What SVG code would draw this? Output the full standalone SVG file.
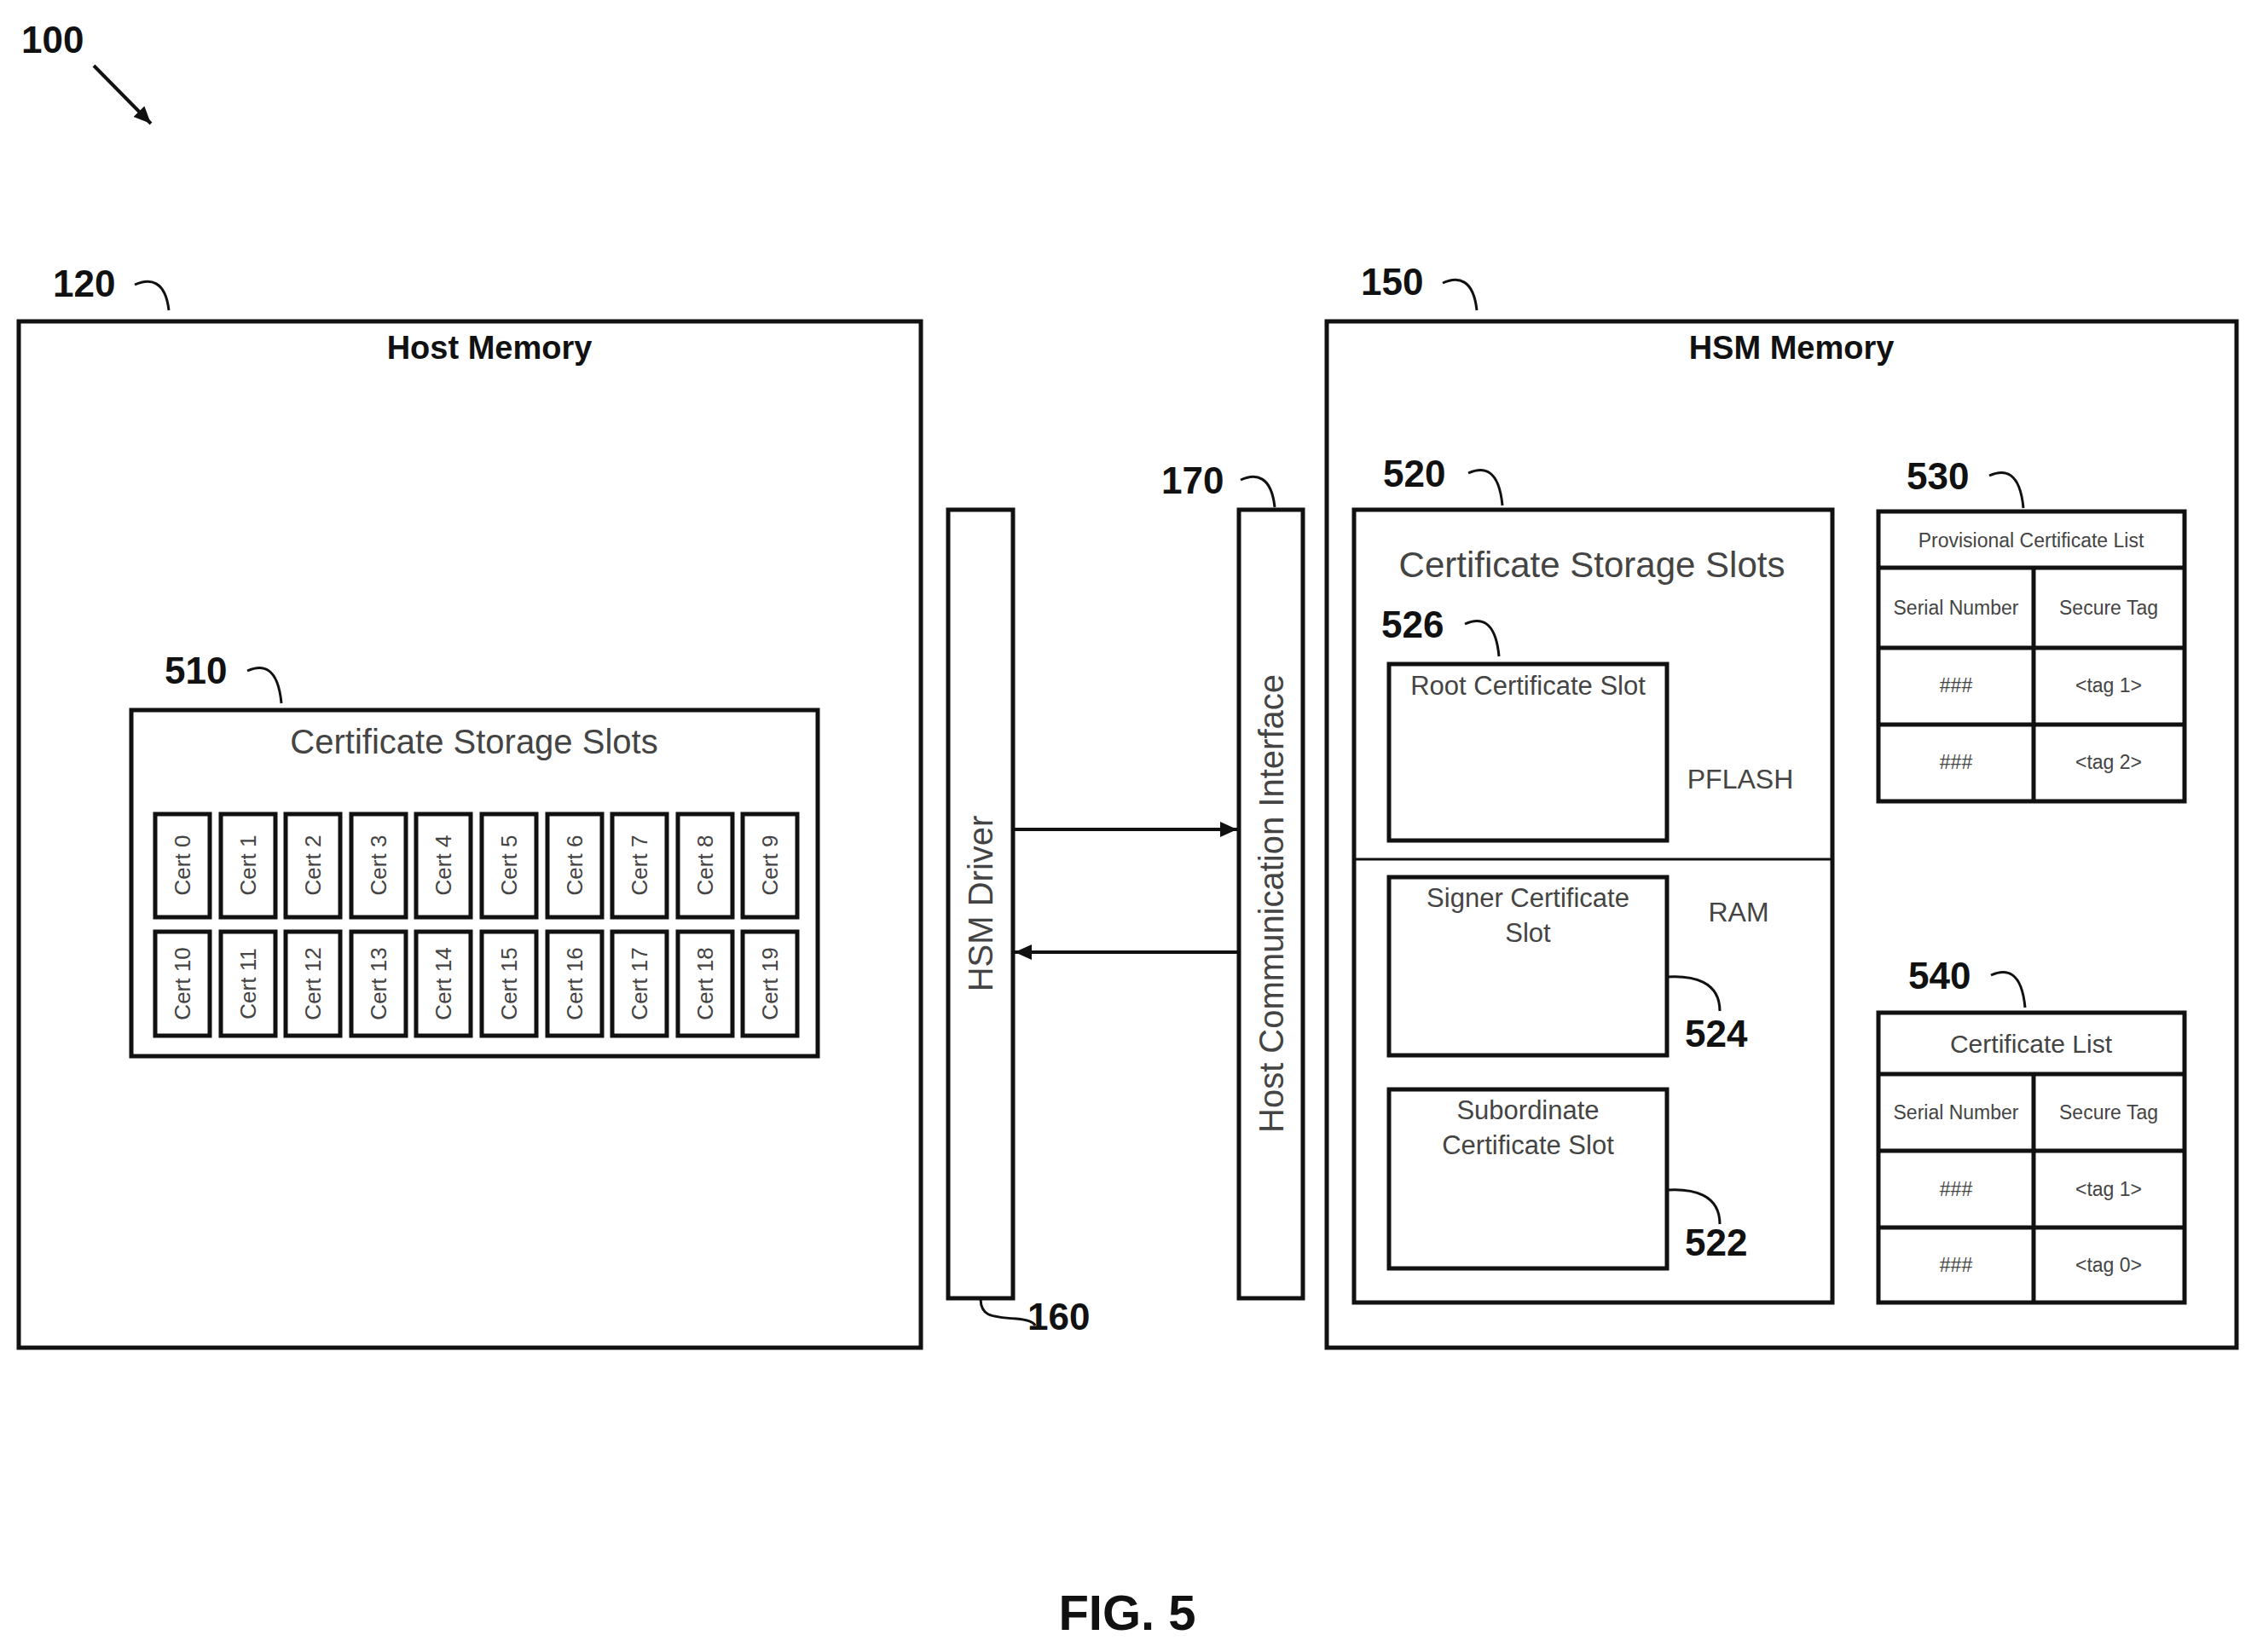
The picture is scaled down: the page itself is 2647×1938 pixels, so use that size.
<svg xmlns="http://www.w3.org/2000/svg" width="2647" height="1938" viewBox="0 0 2647 1938">
<style>
.box{fill:none;stroke:#111;stroke-width:5}
.thin{fill:none;stroke:#111;stroke-width:3}
.lbl{font-family:"Liberation Sans",Arial,sans-serif;font-weight:bold;font-size:44px;fill:#111}
.hd{font-family:"Liberation Sans",Arial,sans-serif;font-weight:bold;font-size:38px;fill:#111;text-anchor:middle}
.t{font-family:"Liberation Sans",Arial,sans-serif;fill:#444;text-anchor:middle}
.sq{fill:none;stroke:#111;stroke-width:3}
.con{fill:none;stroke:#111;stroke-width:4}
</style>
<defs>
<marker id="ah" markerWidth="10" markerHeight="10" refX="9" refY="5" orient="auto" markerUnits="userSpaceOnUse" viewBox="0 0 10 10">
<path d="M0,0 L10,5 L0,10 z" fill="#111"/></marker>
<marker id="ah2" markerWidth="22" markerHeight="22" refX="20" refY="11" orient="auto" markerUnits="userSpaceOnUse" viewBox="0 0 22 22">
<path d="M0,2 L20,11 L0,20 z" fill="#111"/></marker>
</defs>

<g id="n100"><text class="lbl" x="25" y="62">100</text></g>

<g id="n120">
<text class="lbl" x="62" y="348">120</text>
<path class="sq" d="M158 334 c18 -8 36 -5 40 30"/>
<rect class="box" x="22" y="377" width="1058" height="1204"/>
<text class="hd" x="574" y="421">Host Memory</text>
</g>

<g id="n510">
<text class="lbl" x="193" y="802">510</text>
<path class="sq" d="M290 787 c18 -8 36 -5 40 38"/>
<rect class="box" x="154" y="833" width="805" height="406"/>
<text class="t" x="556" y="884" font-size="40">Certificate Storage Slots</text>
<g id="slots">
<rect class="box" x="182" y="955" width="64" height="121"/><text class="t" font-size="26" transform="translate(223,1015) rotate(-90)">Cert 0</text>
<rect class="box" x="259" y="955" width="64" height="121"/><text class="t" font-size="26" transform="translate(300,1015) rotate(-90)">Cert 1</text>
<rect class="box" x="335" y="955" width="64" height="121"/><text class="t" font-size="26" transform="translate(376,1015) rotate(-90)">Cert 2</text>
<rect class="box" x="412" y="955" width="64" height="121"/><text class="t" font-size="26" transform="translate(453,1015) rotate(-90)">Cert 3</text>
<rect class="box" x="488" y="955" width="64" height="121"/><text class="t" font-size="26" transform="translate(529,1015) rotate(-90)">Cert 4</text>
<rect class="box" x="565" y="955" width="64" height="121"/><text class="t" font-size="26" transform="translate(606,1015) rotate(-90)">Cert 5</text>
<rect class="box" x="642" y="955" width="64" height="121"/><text class="t" font-size="26" transform="translate(683,1015) rotate(-90)">Cert 6</text>
<rect class="box" x="718" y="955" width="64" height="121"/><text class="t" font-size="26" transform="translate(759,1015) rotate(-90)">Cert 7</text>
<rect class="box" x="795" y="955" width="64" height="121"/><text class="t" font-size="26" transform="translate(836,1015) rotate(-90)">Cert 8</text>
<rect class="box" x="871" y="955" width="64" height="121"/><text class="t" font-size="26" transform="translate(912,1015) rotate(-90)">Cert 9</text>
<rect class="box" x="182" y="1093" width="64" height="122"/><text class="t" font-size="26" transform="translate(223,1154) rotate(-90)">Cert 10</text>
<rect class="box" x="259" y="1093" width="64" height="122"/><text class="t" font-size="26" transform="translate(300,1154) rotate(-90)">Cert 11</text>
<rect class="box" x="335" y="1093" width="64" height="122"/><text class="t" font-size="26" transform="translate(376,1154) rotate(-90)">Cert 12</text>
<rect class="box" x="412" y="1093" width="64" height="122"/><text class="t" font-size="26" transform="translate(453,1154) rotate(-90)">Cert 13</text>
<rect class="box" x="488" y="1093" width="64" height="122"/><text class="t" font-size="26" transform="translate(529,1154) rotate(-90)">Cert 14</text>
<rect class="box" x="565" y="1093" width="64" height="122"/><text class="t" font-size="26" transform="translate(606,1154) rotate(-90)">Cert 15</text>
<rect class="box" x="642" y="1093" width="64" height="122"/><text class="t" font-size="26" transform="translate(683,1154) rotate(-90)">Cert 16</text>
<rect class="box" x="718" y="1093" width="64" height="122"/><text class="t" font-size="26" transform="translate(759,1154) rotate(-90)">Cert 17</text>
<rect class="box" x="795" y="1093" width="64" height="122"/><text class="t" font-size="26" transform="translate(836,1154) rotate(-90)">Cert 18</text>
<rect class="box" x="871" y="1093" width="64" height="122"/><text class="t" font-size="26" transform="translate(912,1154) rotate(-90)">Cert 19</text>
</g>
</g>

<g id="n160">
<rect class="box" x="1112" y="598" width="76" height="925"/>
<text class="t" font-size="40" fill="#222" transform="translate(1164,1060) rotate(-90)">HSM Driver</text>
<path class="sq" d="M1150 1523 c0 20 10 22 42 24 c12 1 20 4 22 8"/>
<text class="lbl" x="1205" y="1560">160</text>
</g>

<g id="n170">
<rect class="box" x="1453" y="598" width="75" height="925"/>
<text class="t" font-size="40" fill="#222" transform="translate(1505,1060) rotate(-90)">Host Communication Interface</text>
<text class="lbl" x="1362" y="579">170</text>
<path class="sq" d="M1455 563 c18 -8 36 -5 40 32"/>
</g>

<g id="n150">
<text class="lbl" x="1596" y="346">150</text>
<path class="sq" d="M1692 332 c18 -8 36 -5 40 32"/>
<rect class="box" x="1556" y="377" width="1067" height="1204"/>
<text class="hd" x="2101" y="421">HSM Memory</text>
</g>

<g id="n520">
<text class="lbl" x="1622" y="571">520</text>
<path class="sq" d="M1722 555 c18 -8 36 -5 40 38"/>
<rect class="box" x="1588" y="598" width="561" height="930"/>
<line class="thin" x1="1588" y1="1008" x2="2149" y2="1008"/>
<text class="t" x="1867" y="677" font-size="42">Certificate Storage Slots</text>
<text class="t" x="2041" y="925" font-size="32">PFLASH</text>
<text class="t" x="2039" y="1081" font-size="32">RAM</text>
</g>

<g id="n526">
<text class="lbl" x="1620" y="748">526</text>
<path class="sq" d="M1718 732 c18 -8 36 -5 40 38"/>
<rect class="box" x="1629" y="779" width="326" height="207"/>
<text class="t" x="1792" y="815" font-size="31">Root Certificate Slot</text>
</g>

<g id="n524">
<rect class="box" x="1629" y="1029" width="326" height="209"/>
<text class="t" x="1792" y="1064" font-size="31">Signer Certificate</text>
<text class="t" x="1792" y="1105" font-size="31">Slot</text>
<path class="sq" d="M1955 1146 c30 -2 62 5 62 40"/>
<text class="lbl" x="1976" y="1228">524</text>
</g>

<g id="n522">
<rect class="box" x="1629" y="1278" width="326" height="210"/>
<text class="t" x="1792" y="1313" font-size="31">Subordinate</text>
<text class="t" x="1792" y="1354" font-size="31">Certificate Slot</text>
<path class="sq" d="M1955 1396 c30 -2 62 5 62 40"/>
<text class="lbl" x="1976" y="1473">522</text>
</g>

<g id="n530">
<text class="lbl" x="2236" y="574">530</text>
<path class="sq" d="M2333 558 c18 -8 36 -5 40 38"/>
<rect class="box" x="2203" y="600" width="359" height="340"/>
<line class="box" x1="2203" y1="666" x2="2562" y2="666"/>
<line class="box" x1="2203" y1="760" x2="2562" y2="760"/>
<line class="box" x1="2203" y1="850" x2="2562" y2="850"/>
<line class="box" x1="2385" y1="666" x2="2385" y2="940"/>
<text class="t" x="2382" y="642" font-size="23">Provisional Certificate List</text>
<text class="t" x="2294" y="721" font-size="23">Serial Number</text>
<text class="t" x="2473" y="721" font-size="23">Secure Tag</text>
<text class="t" x="2294" y="812" font-size="23">###</text>
<text class="t" x="2473" y="812" font-size="23">&lt;tag 1&gt;</text>
<text class="t" x="2294" y="902" font-size="23">###</text>
<text class="t" x="2473" y="902" font-size="23">&lt;tag 2&gt;</text>
</g>

<g id="n540">
<text class="lbl" x="2238" y="1160">540</text>
<path class="sq" d="M2335 1144 c18 -8 36 -5 40 38"/>
<rect class="box" x="2203" y="1188" width="359" height="340"/>
<line class="box" x1="2203" y1="1260" x2="2562" y2="1260"/>
<line class="box" x1="2203" y1="1350" x2="2562" y2="1350"/>
<line class="box" x1="2203" y1="1440" x2="2562" y2="1440"/>
<line class="box" x1="2385" y1="1260" x2="2385" y2="1528"/>
<text class="t" x="2382" y="1235" font-size="30">Certificate List</text>
<text class="t" x="2294" y="1313" font-size="23">Serial Number</text>
<text class="t" x="2473" y="1313" font-size="23">Secure Tag</text>
<text class="t" x="2294" y="1403" font-size="23">###</text>
<text class="t" x="2473" y="1403" font-size="23">&lt;tag 1&gt;</text>
<text class="t" x="2294" y="1492" font-size="23">###</text>
<text class="t" x="2473" y="1492" font-size="23">&lt;tag 0&gt;</text>
</g>

<g id="connectors">
<line class="con" x1="110" y1="77" x2="177" y2="145" marker-end="url(#ah2)"/>
<line class="con" x1="1188" y1="973" x2="1451" y2="973" marker-end="url(#ah2)"/>
<line class="con" x1="1453" y1="1117" x2="1190" y2="1117" marker-end="url(#ah2)"/>
</g>

<text x="1322" y="1912" text-anchor="middle" font-family="Liberation Sans,Arial,sans-serif" font-weight="bold" font-size="58" fill="#111">FIG. 5</text>
</svg>
